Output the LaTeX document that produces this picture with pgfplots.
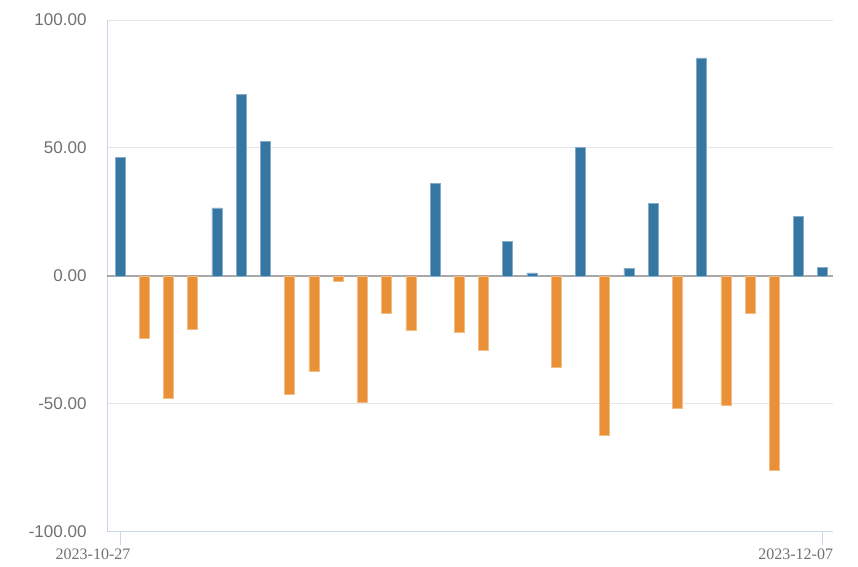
\documentclass[border=0pt]{standalone}
\usepackage{pgfplots}
\pgfplotsset{compat=1.18}
\usepackage{fontspec}
\setmainfont{Liberation Sans}
\newfontfamily\datefont{Liberation Serif}
\definecolor{barblue}{HTML}{3577A2}
\definecolor{barorange}{HTML}{EA9036}
\definecolor{axisblue}{HTML}{CCD6EB}
\definecolor{gridgray}{HTML}{E6E6E6}
\definecolor{zerogray}{HTML}{A8A8A8}
\definecolor{labgray}{HTML}{707070}
\pgfplotstableread{
x y
0 46.4
4 26.6
5 71.0
6 52.5
13 36.2
16 13.6
17 1.2
19 50.3
21 2.9
22 28.2
24 85.2
28 23.3
29 3.4
}\pos
\pgfplotstableread{
x y
1 -24.3
2 -48.0
3 -21.0
7 -46.4
8 -37.3
9 -2.1
10 -49.3
11 -14.6
12 -21.4
14 -22.0
15 -28.9
18 -35.8
20 -62.4
23 -51.6
25 -50.5
26 -14.6
27 -76.0
}\neg
\begin{document}
\begin{tikzpicture}
\path[use as bounding box] (0,0) rectangle (858pt,566pt);
\begin{axis}[
  at={(107pt,34.3pt)}, anchor=south west,
  scale only axis, width=726pt, height=511.7pt,
  xmin=-0.537, xmax=29.425, ymin=-100, ymax=100,
  axis x line*=bottom, axis y line*=left,
  axis line style={axisblue, line width=1pt, -},
  ytick={-100,-50,0,50,100},
  yticklabels={-100.00,-50.00,0.00,50.00,100.00},
  yticklabel style={font=\fontsize{17}{19}\selectfont, text=labgray, xshift=-17pt},
  ymajorgrids, major grid style={gridgray, line width=1pt},
  ytick style={draw=none},
  xtick={0,29}, xticklabels={2023-10-27,2023-12-07},
  xtick align=outside,
  xtick style={axisblue, line width=1pt},
  major tick length=13pt,
  xticklabel style={font=\datefont\fontsize{16}{18}\selectfont, text=labgray, xshift=-27pt, yshift=-1pt},
  extra y ticks={0}, extra y tick labels={},
  extra y tick style={ymajorgrids, major grid style={zerogray, line width=1.3pt}},
  ybar, bar width=10pt, bar shift=0pt,
  clip=false,
]
\addplot[fill=barblue, draw=barblue!60!white, line width=0.5pt] table[x=x,y=y]{\pos};
\addplot[fill=barorange, draw=barorange!60!white, line width=0.5pt] table[x=x,y=y]{\neg};
\end{axis}
\end{tikzpicture}
\end{document}
